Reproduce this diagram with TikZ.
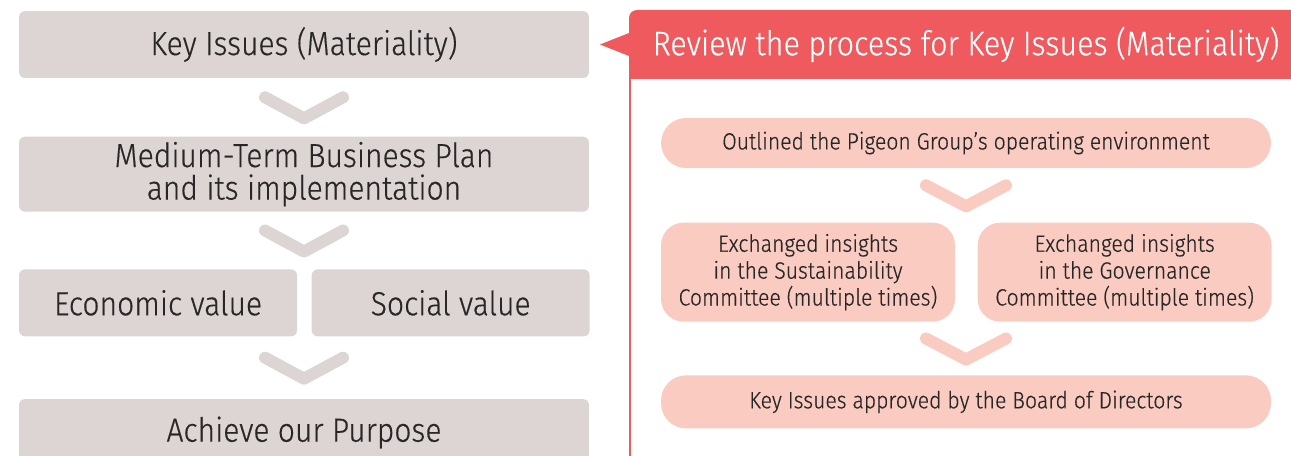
\documentclass[tikz,border=0pt]{standalone}
\usepackage{fontspec}
\setmainfont{Fira Sans Light}[FakeStretch=0.9, FakeBold=0.4]
\usetikzlibrary{positioning}
\definecolor{boxgrey}{RGB}{221,212,212}
\definecolor{hdrred}{RGB}{239,90,94}
\definecolor{pillpink}{RGB}{250,203,192}
\definecolor{txtdark}{RGB}{40,38,38}
\begin{document}
\begin{tikzpicture}[node distance={1.16cm}, x=0.02cm, y=-0.02cm,
  main/.style = {fill=boxgrey, rounded corners=0.12cm, text=txtdark, align=center, inner sep=0pt, font=\fontsize{19}{18.5}\selectfont},
  pill/.style = {fill=pillpink, rounded corners=0.5cm, minimum width=12.2cm, text=txtdark, align=center, inner sep=0pt, font=\fontsize{13.4}{15.3}\selectfont},
  chev/.style = {line width=0.24cm, line cap=round, line join=round}]
  \useasboundingbox (0,0) rectangle (1291,456);

  % left column
  \node[main, minimum width=11.4cm, minimum height=1.34cm] (key) at (304,44.5) {Key Issues (Materiality)};
  \node[main, minimum width=11.4cm, minimum height=1.5cm] (plan) [below=of key] {Medium-Term Business Plan\\and its implementation};
  \node[main, minimum width=5.56cm, minimum height=1.34cm] (econ) [below=1.14cm of plan.south west, anchor=north west] {Economic value};
  \node[main, minimum width=5.56cm, minimum height=1.34cm] (social) [right=0.28cm of econ] {Social value};
  \node[main, minimum width=11.4cm, minimum height=1.34cm] (purpose) [below=1.24cm of econ.south west, anchor=north west] {Achieve our Purpose};

  \path (key.south) -- (plan.north) coordinate[midway] (c1);
  \path (plan.south) -- (plan.south |- econ.north) coordinate[midway] (c2);
  \path (purpose.north |- econ.south) -- (purpose.north) coordinate[midway] (c3);
  \foreach \c in {c1, c2, c3}
    \draw[chev, boxgrey] ([shift={(-39,-10)}]\c) -- ([shift={(0,11)}]\c) -- ([shift={(39,-10)}]\c);

  % right panel
  \fill[hdrred] (629,79) -- (629,56) -- (600,44.5) -- (629,33) -- (629,18) arc[start angle=180, end angle=270, radius=8] -- (1310,10) -- (1310,79) -- cycle;
  \node[text=white, minimum width=13.48cm, minimum height=1.38cm, inner sep=0pt, font=\fontsize{19.3}{19}\selectfont] (review) at (966,44.5) {Review the process for Key Issues (Materiality)};
  \draw[hdrred, line width=0.04cm] ([xshift=1]review.south west) -- ++(0,400);

  \node[pill, minimum height=1cm] (outl) at (966,143) {Outlined the Pigeon Group’s operating environment};
  \node[pill, rounded corners=0.45cm, minimum width=5.88cm, minimum height=1.98cm] (sust) [below=1.08cm of outl.south west, anchor=north west] {Exchanged insights\\in the Sustainability\\Committee (multiple times)};
  \node[pill, rounded corners=0.45cm, minimum width=5.88cm, minimum height=1.98cm] (gov) [right=0.44cm of sust] {Exchanged insights\\in the Governance\\Committee (multiple times)};
  \node[pill, minimum height=1.06cm] (board) [below=1.06cm of sust.south west, anchor=north west] {Key Issues approved by the Board of Directors};

  \path (outl.south) -- (outl.south |- sust.north) coordinate[midway] (c4);
  \path (board.north |- sust.south) -- (board.north) coordinate[midway] (c5);
  \foreach \c in {c4, c5}
    \draw[chev, pillpink] ([shift={(-40,-10)}]\c) -- ([shift={(0,11)}]\c) -- ([shift={(40,-10)}]\c);
\end{tikzpicture}
\end{document}
